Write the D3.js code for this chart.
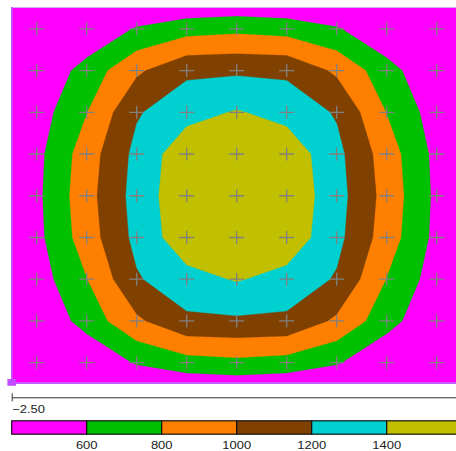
<!DOCTYPE html>
<html>
<head>
<meta charset="utf-8">
<script src="https://cdn.jsdelivr.net/npm/d3@7/dist/d3.min.js"></script>
<style>
  html, body { margin: 0; padding: 0; background: #ffffff; overflow: hidden; }
  svg { display: block; }
  text { font-family: "Liberation Sans", Arial, sans-serif; }
</style>
</head>
<body>
<svg id="chart" width="456" height="451"></svg>
<script>
// ---- data ----
const xDomain = [-2.5, 2.5];
const yDomain = [-2.5, 2.5];
const xTicks = [-2.5];
// grid sample positions (one extra sample beyond the visible area on each side)
const gridX = [-2.7778, -2.2222, -1.6667, -1.1111, -0.5556, 0, 0.5556, 1.1111, 1.6667, 2.2222, 2.7778];
const gridY = [2.7778, 2.2222, 1.6667, 1.1111, 0.5556, 0, -0.5556, -1.1111, -1.6667, -2.2222, -2.7778];
// marker (+) positions
const markerX = [-2.2222, -1.6667, -1.1111, -0.5556, 0, 0.5556, 1.1111, 1.6667, 2.2222];
const markerY = [2.2222, 1.6667, 1.1111, 0.5556, 0, -0.5556, -1.1111, -1.6667, -2.2222];
// field values, rows top to bottom
const zRow0  = [100, 140, 170, 200, 240, 250, 240, 200, 170, 140, 100];
const zRow1  = [140, 300, 420, 620, 720, 750, 720, 620, 420, 300, 140];
const zRow2  = [170, 420, 681, 965, 1160, 1170, 1160, 965, 681, 420, 170];
const zRow3  = [200, 500, 795, 1180, 1330, 1415, 1330, 1180, 795, 500, 200];
const zRow4  = [240, 544, 902, 1255, 1535, 1560, 1535, 1255, 902, 544, 240];
const zRow5  = [250, 556, 928, 1276, 1558, 1590, 1558, 1276, 928, 556, 250];
const zRow6  = [240, 544, 902, 1255, 1535, 1560, 1535, 1255, 902, 544, 240];
const zRow7  = [200, 500, 795, 1180, 1330, 1415, 1330, 1180, 795, 500, 200];
const zRow8  = [170, 420, 681, 965, 1160, 1170, 1160, 965, 681, 420, 170];
const zRow9  = [140, 300, 420, 620, 720, 750, 720, 620, 420, 300, 140];
const zRow10 = [100, 140, 170, 200, 240, 250, 240, 200, 170, 140, 100];
const levels = [600, 800, 1000, 1200, 1400];
const colorDomain = [400, 1600];
const colorTicks = [600, 800, 1000, 1200, 1400];
const bandColors = ["#ff00ff", "#00c000", "#ff8000", "#804000", "#00d0d0", "#c0c000"];

// ---- layout ----
const plot = { left: 11.7, right: 461.7, top: 8, bottom: 383.5 };
const svg = d3.select("#chart");

const xScale = d3.scaleLinear().domain(xDomain).range([plot.left, plot.right]);
const yScale = d3.scaleLinear().domain(yDomain).range([plot.bottom, plot.top]);
const nx = gridX.length, ny = gridY.length;
const gx = d3.scaleLinear().domain([0.5, nx - 0.5]).range([gridX[0], gridX[nx - 1]]);
const gy = d3.scaleLinear().domain([0.5, ny - 0.5]).range([gridY[0], gridY[ny - 1]]);

const rows = [zRow0, zRow1, zRow2, zRow3, zRow4, zRow5, zRow6, zRow7, zRow8, zRow9, zRow10];
const values = rows.flat();

svg.append("defs").append("clipPath").attr("id", "plotclip")
  .append("rect")
  .attr("x", plot.left).attr("y", plot.top)
  .attr("width", plot.right - plot.left).attr("height", plot.bottom - plot.top);

const gPlot = svg.append("g").attr("clip-path", "url(#plotclip)");
gPlot.append("rect")
  .attr("x", plot.left).attr("y", plot.top)
  .attr("width", plot.right - plot.left).attr("height", plot.bottom - plot.top)
  .attr("fill", bandColors[0]);

const contours = d3.contours().size([nx, ny]).thresholds(levels)(values);
const proj = d3.geoTransform({
  point: function (x, y) { this.stream.point(xScale(gx(x)), yScale(gy(y))); }
});
const path = d3.geoPath(proj);
gPlot.selectAll("path.band").data(contours).join("path")
  .attr("class", "band")
  .attr("d", path)
  .attr("fill", (d, i) => bandColors[i + 1])
  .attr("stroke", (d, i) => bandColors[i + 1])
  .attr("stroke-width", 0.3);

// + markers
const pts = [];
markerY.forEach(y => markerX.forEach(x => pts.push([x, y])));
gPlot.selectAll("path.mk").data(pts).join("path")
  .attr("class", "mk")
  .attr("d", d => `M${xScale(d[0]) - 7.5},${yScale(d[1])}H${xScale(d[0]) + 7.5}M${xScale(d[0])},${yScale(d[1]) - 6.5}V${yScale(d[1]) + 6.5}`)
  .attr("stroke", "#808080")
  .attr("stroke-width", 1.3)
  .attr("fill", "none");

// plot borders
svg.append("line").attr("x1", plot.left).attr("x2", plot.right)
  .attr("y1", plot.top - 0.5).attr("y2", plot.top - 0.5)
  .attr("stroke", "#d7a8ff").attr("stroke-width", 1);
svg.append("line").attr("x1", plot.left + 0.15).attr("x2", plot.left + 0.15)
  .attr("y1", plot.top - 1).attr("y2", plot.bottom)
  .attr("stroke", "#c055ff").attr("stroke-width", 1.7);
svg.append("line").attr("x1", plot.left).attr("x2", plot.right)
  .attr("y1", plot.bottom - 0.5).attr("y2", plot.bottom - 0.5)
  .attr("stroke", "#c260ff").attr("stroke-width", 2);
svg.append("rect").attr("x", 7.4).attr("y", 379).attr("width", 8.6).attr("height", 6.8)
  .attr("fill", "#c04cff");

// x axis
const sx = 1.18;
const axisG = svg.append("g").attr("transform", "translate(0,397.3)")
  .call(d3.axisBottom(xScale).tickValues(xTicks).tickFormat(d3.format(".2f")).tickSizeOuter(0).tickSizeInner(4));
axisG.select(".domain").attr("stroke", "#333").attr("stroke-width", 1);
axisG.selectAll(".tick line").attr("y1", -4).attr("y2", 4).attr("stroke", "#333");
axisG.selectAll(".tick text")
  .attr("text-anchor", "start")
  .attr("dy", null)
  .attr("y", 15.7)
  .attr("x", 0)
  .attr("transform", `scale(${sx},1)`)
  .attr("fill", "#222")
  .attr("font-size", "11px")
  .attr("font-family", "'Liberation Sans', Arial, sans-serif");

// colour bar
const cScale = d3.scaleLinear().domain(colorDomain).range([plot.left, plot.right]);
const bandEdges = [colorDomain[0]].concat(levels).concat([colorDomain[1]]);
const cb = svg.append("g");
const cbTop = 420.8, cbH = 13.4;
cb.selectAll("rect").data(bandColors).join("rect")
  .attr("x", (d, i) => cScale(bandEdges[i]))
  .attr("y", cbTop)
  .attr("width", (d, i) => cScale(bandEdges[i + 1]) - cScale(bandEdges[i]))
  .attr("height", cbH)
  .attr("fill", d => d)
  .attr("stroke", "#111")
  .attr("stroke-width", 1.2);
cb.selectAll("text").data(colorTicks).join("text")
  .attr("x", d => cScale(d) / sx)
  .attr("y", 448.8)
  .attr("transform", `scale(${sx},1)`)
  .attr("text-anchor", "middle")
  .attr("font-size", "11px")
  .attr("fill", "#222")
  .text(d => d);
</script>
</body>
</html>
